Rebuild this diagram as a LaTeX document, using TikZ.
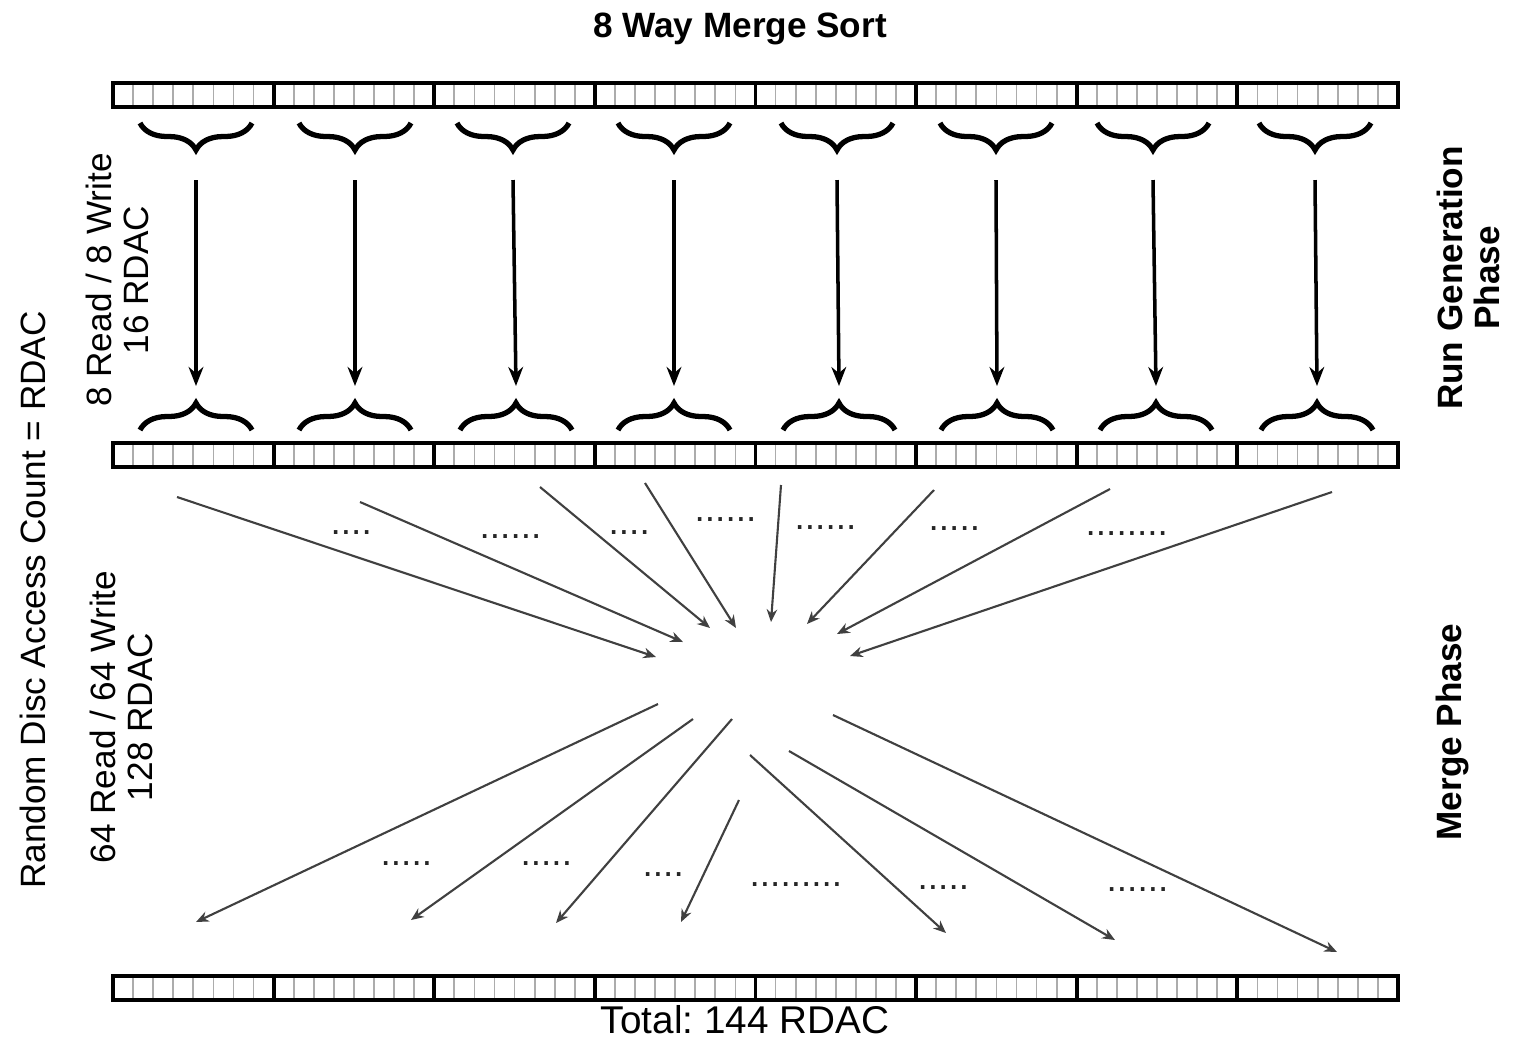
\documentclass[tikz,border=0pt]{standalone}
\usepackage{fontspec}
\setmainfont{Liberation Sans}
\usetikzlibrary{arrows.meta,decorations.pathreplacing}
\frenchspacing

\begin{document}
\begin{tikzpicture}[x=0.01cm,y=-0.01cm,
  every node/.style={font=\fontsize{10}{10.5}\selectfont, inner sep=0pt},
  boldlabel/.style={font=\fontsize{10}{10.5}\selectfont\bfseries},
  cell/.style={gray!65, line width=0.5pt},
  seg/.style={black, line width=1.1pt},
  bar/.style={black, line width=1.4pt},
  runbrace/.style={decorate, decoration={brace, amplitude=0.27cm}, line width=1.5pt},
  runarrow/.style={-{Stealth[length=5.4pt,width=4.2pt]}, line width=1pt},
  mergearrow/.style={-{Stealth[length=3.6pt,width=3pt]}, line width=0.6pt, black!75},
  gapdots/.style={font=\fontsize{10.5}{11}\selectfont, anchor=base west, text=black!85}
]
\useasboundingbox (0,0) rectangle (1517,1038);

% the three disc files, 8 runs of 8 blocks
\foreach \y in {83,443,976} {
  \foreach \i in {1,...,63} \draw[cell] ({113+\i*20.078},\y) -- ++(0,24);
  \foreach \i in {1,...,7} \draw[seg] ({113+\i*160.625},\y) -- ++(0,24);
  \draw[bar] (113,\y) rectangle ++(1285,24);
}

% run generation
\foreach \i/\tx/\bx in {0/196/196,1/355/355,2/513/516,3/674/674,4/837/839,5/996/997,6/1153/1156,7/1315/1317} {
  \draw[runbrace] (\tx+56,123) -- (\tx-56,123);
  \draw[runbrace] (\bx-56,430) -- (\bx+56,430);
  \coordinate (rs\i) at (\tx,180);
  \coordinate (re\i) at (\bx,386);
  \draw[runarrow] (rs\i) -- (re\i);
}

% merge phase, in
\foreach \n/\sx/\sy/\ex/\ey in {1/177/497/656/657,2/360/502/683/642,3/540/487/710/628,4/645/483/736/628,
    5/781/485/771/622,6/934/490/807/624,7/1110/489/837/634,8/1332/492/850/656} {
  \coordinate (mi\n) at (\sx,\sy);
  \coordinate (mc\n) at (\ex,\ey);
  \draw[mergearrow] (mi\n) -- (mc\n);
}
% merge phase, out
\foreach \n/\sx/\sy/\ex/\ey in {1/658/704/196/922,2/693/719/411/920,3/732/719/556/923,4/739/800/681/922,
    5/750/755/946/933,6/789/751/1115/940,7/833/715/1337/952} {
  \coordinate (mo\n) at (\sx,\sy);
  \coordinate (mf\n) at (\ex,\ey);
  \draw[mergearrow] (mo\n) -- (mf\n);
}

\node[gapdots] (gt1) at (330,534) {....};
\node[gapdots] (gt2) at (479,538) {......};
\node[gapdots] (gt3) at (608,534) {....};
\node[gapdots] (gt4) at (694,521) {......};
\node[gapdots] (gt5) at (794,529) {......};
\node[gapdots] (gt6) at (928,530) {.....};
\node[gapdots] (gt7) at (1085,535) {........};
\node[gapdots] (gb1) at (380,865) {.....};
\node[gapdots] (gb2) at (520,865) {.....};
\node[gapdots] (gb3) at (642,876) {....};
\node[gapdots] (gb4) at (749,886) {.........};
\node[gapdots] (gb5) at (917,889) {.....};
\node[gapdots] (gb6) at (1106,891) {......};

\node[boldlabel, anchor=base] (title) at (740,37) {8 Way Merge Sort};
\node[font=\fontsize{11}{11}\selectfont, anchor=base] (total) at (745,1033) {Total: 144 RDAC};
\node[boldlabel, rotate=90, align=center] (rungen) at (1468,278) {Run Generation\\Phase};
\node[boldlabel, rotate=90] (mergeph) at (1452,732) {Merge Phase};
\node[rotate=90] (rdac) at (33,600) {Random Disc Access Count = RDAC};
\node[rotate=90, align=center] (runcost) at (117,280) {8 Read / 8 Write\\16 RDAC};
\node[rotate=90, align=center] (mergecost) at (121,717) {64 Read / 64 Write\\128 RDAC};
\end{tikzpicture}
\end{document}
